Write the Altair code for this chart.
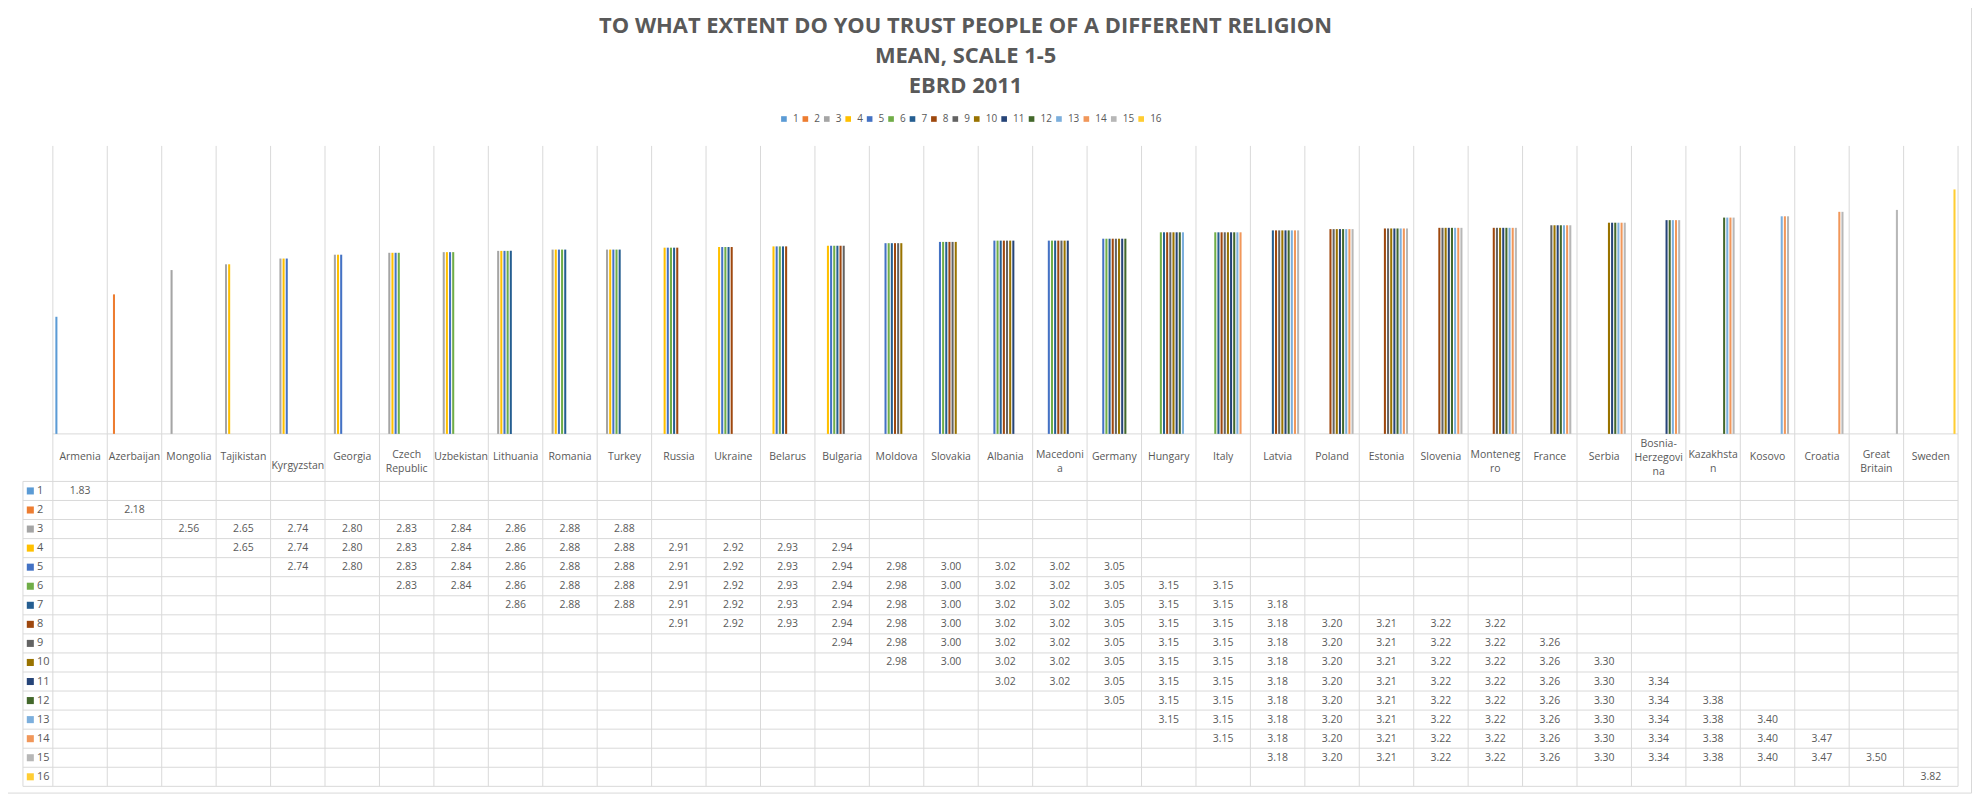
import altair as alt
import pandas as pd

TITLE_LINES = [
    "TO WHAT EXTENT DO YOU TRUST PEOPLE OF A DIFFERENT RELIGION",
    "MEAN, SCALE 1-5",
    "EBRD 2011",
]

COUNTRIES = [
    "Armenia", "Azerbaijan", "Mongolia", "Tajikistan", "Kyrgyzstan", "Georgia",
    "Czech Republic", "Uzbekistan", "Lithuania", "Romania", "Turkey", "Russia",
    "Ukraine", "Belarus", "Bulgaria", "Moldova", "Slovakia", "Albania", "Macedonia",
    "Germany", "Hungary", "Italy", "Latvia", "Poland", "Estonia", "Slovenia",
    "Montenegro", "France", "Serbia", "Bosnia-Herzegovina", "Kazakhstan", "Kosovo",
    "Croatia", "Great Britain", "Sweden",
]

CATEGORY_LABELS = [
    "Armenia", "Azerbaijan", "Mongolia", "Tajikistan", "Kyrgyzstan", "Georgia",
    "Czech\nRepublic", "Uzbekistan", "Lithuania", "Romania", "Turkey", "Russia",
    "Ukraine", "Belarus", "Bulgaria", "Moldova", "Slovakia", "Albania", "Macedoni\na",
    "Germany", "Hungary", "Italy", "Latvia", "Poland", "Estonia", "Slovenia",
    "Monteneg\nro", "France", "Serbia", "Bosnia-\nHerzegovi\nna", "Kazakhsta\nn", "Kosovo",
    "Croatia", "Great\nBritain", "Sweden",
]

MEANS = [
    1.83, 2.18, 2.56, 2.65, 2.74, 2.80, 2.83, 2.84, 2.86, 2.88, 2.88, 2.91,
    2.92, 2.93, 2.94, 2.98, 3.00, 3.02, 3.02, 3.05, 3.15, 3.15, 3.18, 3.20,
    3.21, 3.22, 3.22, 3.26, 3.30, 3.34, 3.38, 3.40, 3.47, 3.50, 3.82,
]

# first and last series (table row) in which each country's value appears
FIRST_SERIES = [1, 2, 3, 3, 3, 3, 3, 3, 3, 3, 3, 4, 4, 4, 4, 5, 5, 5, 5, 5,
                6, 6, 7, 8, 8, 8, 8, 9, 10, 11, 12, 13, 14, 15, 16]
LAST_SERIES = [1, 2, 3, 4, 5, 5, 6, 6, 7, 7, 7, 8, 8, 8, 9, 10, 10, 11, 11, 12,
               13, 14, 15, 15, 15, 15, 15, 15, 15, 15, 15, 15, 15, 15, 16]

SERIES = [str(i) for i in range(1, 17)]
COLORS = [
    "#5B9BD5", "#ED7D31", "#A5A5A5", "#FFC000", "#4472C4", "#70AD47",
    "#255E91", "#9E480E", "#636363", "#997300", "#264478", "#43682B",
    "#7CAFDD", "#F1975A", "#B7B7B7", "#FFCD33",
]

# ---------------------------------------------------------------- data tables
records = []
for c, v, a, b in zip(COUNTRIES, MEANS, FIRST_SERIES, LAST_SERIES):
    for s in range(a, b + 1):
        records.append({"country": c, "series": str(s), "value": v, "label": f"{v:.2f}"})
long_df = pd.DataFrame(records)
cat_df = pd.DataFrame({"country": COUNTRIES, "label": CATEGORY_LABELS})
cat_df["nlines"] = cat_df["label"].str.count("\n") + 1
row_df = pd.DataFrame({"series": SERIES})
title_df = pd.DataFrame({"t": ["\n".join(TITLE_LINES)]})

# ---------------------------------------------------------------- layout
FONT = "Open Sans"
TEXT = "#595959"
GRID = "#D9D9D9"
W, H = 1978, 794
PLOT_L, PLOT_R = 52, 1964
PLOT_T, BASE = 144, 433
LABEL_B, TABLE_B = 480.7, 786.7
HEADER_L = 22

x_scale = alt.Scale(domain=COUNTRIES, range=[PLOT_L, PLOT_R], paddingInner=0, paddingOuter=0)
y_scale = alt.Scale(domain=[0, 4.5], range=[BASE, PLOT_T], nice=False, zero=True)
row_scale = alt.Scale(domain=SERIES, range=[LABEL_B, TABLE_B], paddingInner=0, paddingOuter=0)
color_scale = alt.Scale(domain=SERIES, range=COLORS)

legend = alt.Legend(
    orient="none", legendX=780.7, legendY=112, direction="horizontal", title=None,
    symbolType="square", symbolSize=32, symbolStrokeWidth=0,
    labelFont=FONT, labelFontSize=10, labelColor=TEXT, labelOffset=4,
    columnPadding=1.5, padding=0,
)

border = alt.Chart(pd.DataFrame({"k": [0]})).mark_rect(
    fill="white", stroke=GRID, strokeWidth=1
).encode(x=alt.value(0.5), x2=alt.value(W - 0.5), y=alt.value(0.5), y2=alt.value(H - 0.5))

vgrid = alt.Chart(cat_df).mark_rule(color=GRID, strokeWidth=1).encode(
    x=alt.X("country:N", scale=x_scale, axis=None, bandPosition=0),
    y=alt.value(PLOT_T), y2=alt.value(TABLE_B),
)
vgrid_end = alt.Chart(cat_df.tail(1)).mark_rule(color=GRID, strokeWidth=1).encode(
    x=alt.X("country:N", scale=x_scale, axis=None, bandPosition=1),
    y=alt.value(PLOT_T), y2=alt.value(TABLE_B),
)
header_left = alt.Chart(row_df.head(1)).mark_rule(color=GRID, strokeWidth=1).encode(
    x=alt.value(HEADER_L), y=alt.value(LABEL_B), y2=alt.value(TABLE_B)
)
hgrid = alt.Chart(row_df).mark_rule(color=GRID, strokeWidth=1).encode(
    y=alt.Y("series:N", scale=row_scale, axis=None, bandPosition=0),
    x=alt.value(HEADER_L), x2=alt.value(PLOT_R),
)
hgrid_end = alt.Chart(row_df.tail(1)).mark_rule(color=GRID, strokeWidth=1).encode(
    y=alt.Y("series:N", scale=row_scale, axis=None, bandPosition=1),
    x=alt.value(HEADER_L), x2=alt.value(PLOT_R),
)
baseline = alt.Chart(pd.DataFrame({"v": [0.0]})).mark_rule(color=GRID, strokeWidth=1).encode(
    y=alt.Y("v:Q", scale=y_scale, axis=None), x=alt.value(PLOT_L), x2=alt.value(PLOT_R)
)

bars = alt.Chart(long_df).mark_bar().encode(
    x=alt.X("country:N", scale=x_scale, axis=None),
    xOffset=alt.XOffset("series:N", scale=alt.Scale(domain=SERIES, paddingInner=0.35, paddingOuter=0.8)),
    y=alt.Y("value:Q", scale=y_scale, axis=None),
    color=alt.Color("series:N", scale=color_scale, legend=legend),
)


def cat_layer(cond, first_line_y):
    return alt.Chart(cat_df).transform_filter(cond).mark_text(
        font=FONT, fontSize=10.5, color=TEXT, baseline="middle", align="center",
        lineBreak="\n", lineHeight=14,
    ).encode(x=alt.X("country:N", scale=x_scale, axis=None), y=alt.value(first_line_y), text="label:N")


cat_one = cat_layer("datum.nlines == 1 && datum.country != 'Kyrgyzstan'", 456)
cat_kyr = cat_layer("datum.country == 'Kyrgyzstan'", 465)
cat_two = cat_layer("datum.nlines == 2", 454)
cat_three = cat_layer("datum.nlines == 3", 443)

val_text = alt.Chart(long_df).mark_text(
    font=FONT, fontSize=10.5, color=TEXT, baseline="middle", align="center",
).encode(
    x=alt.X("country:N", scale=x_scale, axis=None),
    y=alt.Y("series:N", scale=row_scale, axis=None),
    text="label:N",
)

row_keys = alt.Chart(row_df).mark_square(size=50, opacity=1).encode(
    x=alt.value(29.4),
    y=alt.Y("series:N", scale=row_scale, axis=None),
    color=alt.Color("series:N", scale=color_scale, legend=legend),
)
row_names = alt.Chart(row_df).mark_text(
    font=FONT, fontSize=11, color=TEXT, baseline="middle", align="left",
).encode(
    x=alt.value(36),
    y=alt.Y("series:N", scale=row_scale, axis=None),
    text="series:N",
)

title = alt.Chart(title_df).mark_text(
    font=FONT, fontSize=22, fontWeight="bold", color=TEXT, align="center",
    baseline="middle", lineBreak="\n", lineHeight=30,
).encode(x=alt.value(968), y=alt.value(24), text="t:N")

chart = alt.layer(
    border, vgrid, vgrid_end, header_left, hgrid, hgrid_end, baseline,
    bars, cat_one, cat_kyr, cat_two, cat_three, val_text, row_keys, row_names, title,
).resolve_scale(y="independent").properties(
    width=W, height=H, autosize="none",
    padding={"left": -7, "top": -7, "right": 0, "bottom": 0},
    background="white",
).configure_view(strokeWidth=0)

chart.save("out.html", embed_options={"renderer": "svg", "actions": False})
